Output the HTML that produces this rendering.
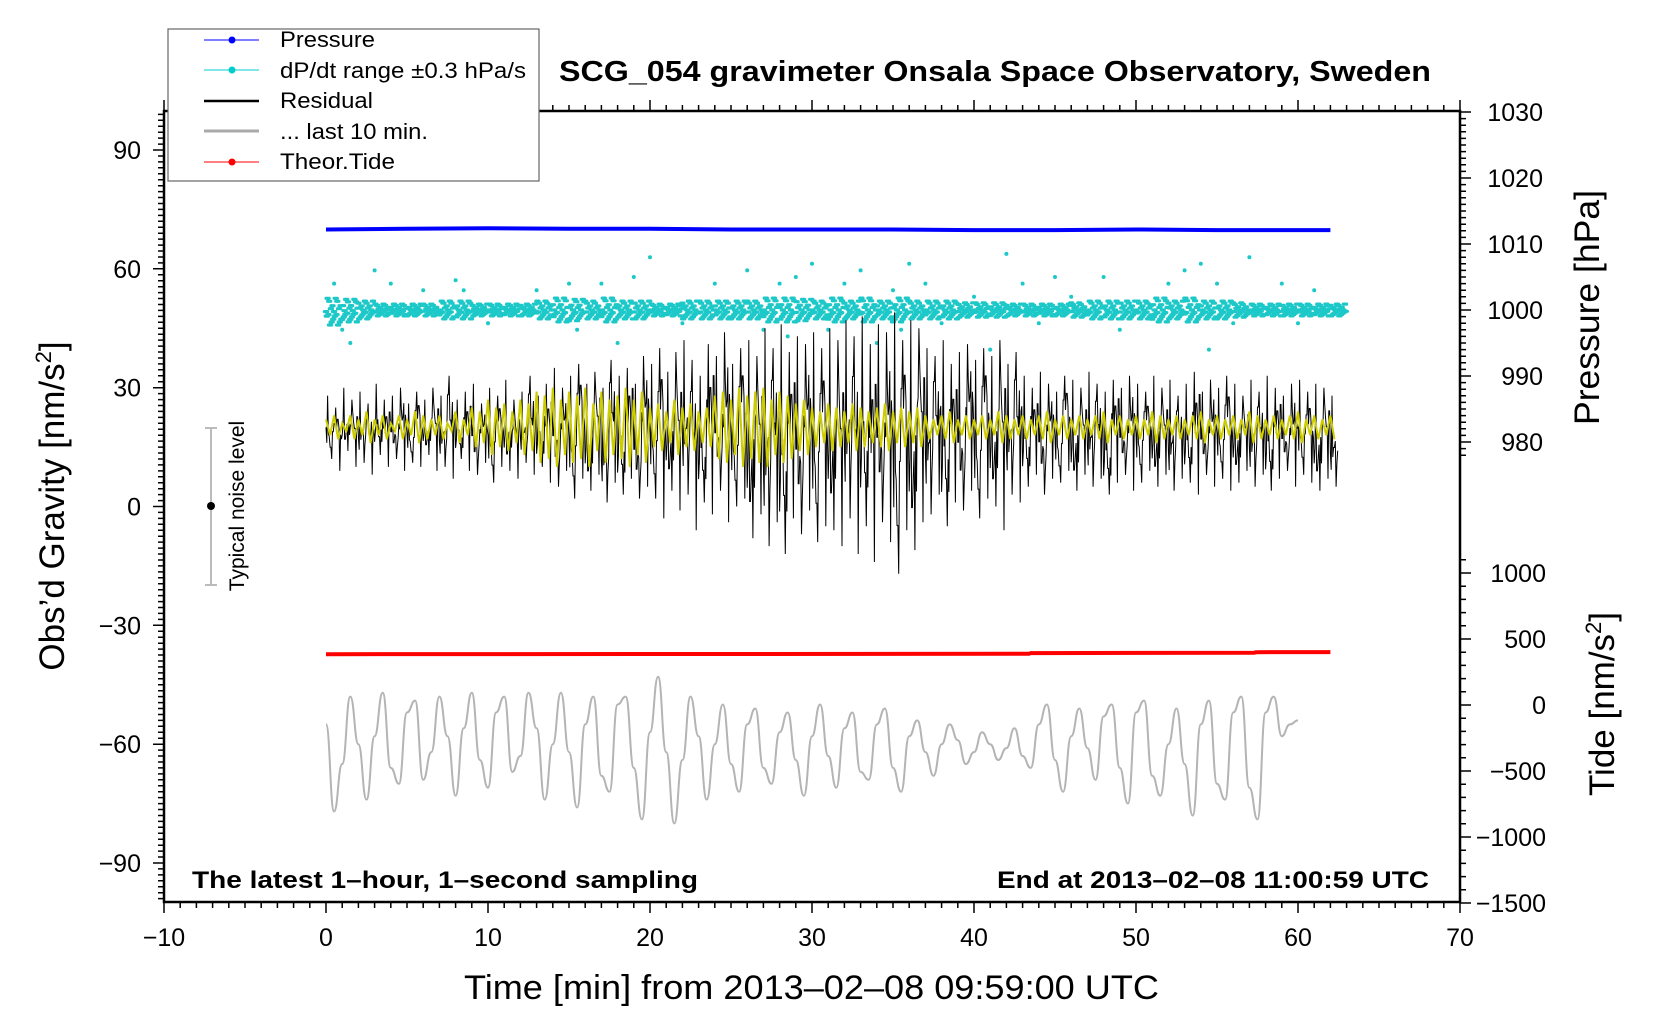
<!DOCTYPE html>
<html><head><meta charset="utf-8">
<style>
html,body{margin:0;padding:0;background:#fff;}
svg{display:block;font-family:"Liberation Sans",sans-serif;}
</style></head>
<body>
<svg id="chart" width="1660" height="1020" viewBox="0 0 1660 1020" xmlns="http://www.w3.org/2000/svg">
<rect x="0" y="0" width="1660" height="1020" fill="#fff"/>
<g id="series"></g>
<g id="axes"></g>
<rect x="164" y="111" width="1296" height="791" fill="none" stroke="#000" stroke-width="2.5"/>
<text x="559" y="81" font-size="29" font-weight="bold" textLength="872" lengthAdjust="spacingAndGlyphs">SCG_054 gravimeter Onsala Space Observatory, Sweden</text>
<text x="192" y="888" font-size="24" font-weight="bold" textLength="506" lengthAdjust="spacingAndGlyphs">The latest 1–hour, 1–second sampling</text>
<text x="997" y="888" font-size="24" font-weight="bold" textLength="432" lengthAdjust="spacingAndGlyphs">End at 2013–02–08 11:00:59 UTC</text>
<text x="464" y="999" font-size="34" textLength="695" lengthAdjust="spacingAndGlyphs">Time [min] from 2013–02–08 09:59:00 UTC</text>
<text transform="translate(64,506) rotate(-90)" font-size="35" text-anchor="middle">Obs’d Gravity [nm/s<tspan font-size="22" dy="-13">2</tspan><tspan dy="13">]</tspan></text>
<text transform="translate(1599,425) rotate(-90)" font-size="35" textLength="235" lengthAdjust="spacingAndGlyphs">Pressure [hPa]</text>
<text transform="translate(1614,704) rotate(-90)" font-size="35" text-anchor="middle">Tide [nm/s<tspan font-size="22" dy="-13">2</tspan><tspan dy="13">]</tspan></text>
<g>
<line x1="211" y1="428" x2="211" y2="585" stroke="#bbb" stroke-width="2"/>
<line x1="205" y1="428" x2="217" y2="428" stroke="#bbb" stroke-width="2"/>
<line x1="205" y1="585" x2="217" y2="585" stroke="#bbb" stroke-width="2"/>
<circle cx="211" cy="506" r="4" fill="#000"/>
<text transform="translate(244,506) rotate(-90)" font-size="21" text-anchor="middle">Typical noise level</text>
</g>
<g>
<rect x="168" y="29" width="371" height="152" fill="#fff" stroke="#666" stroke-width="1.2"/>
<g><line x1="204" y1="40" x2="259" y2="40" stroke="#00f" stroke-width="1"/><circle cx="232" cy="40" r="3.5" fill="#00f"/><text x="280" y="47" font-size="22" textLength="95" lengthAdjust="spacingAndGlyphs">Pressure</text></g>
<g><line x1="204" y1="70" x2="259" y2="70" stroke="#0cc" stroke-width="1"/><circle cx="232" cy="70" r="3.5" fill="#0cc"/><text x="280" y="78" font-size="22" textLength="246" lengthAdjust="spacingAndGlyphs">dP/dt range ±0.3 hPa/s</text></g>
<g><line x1="204" y1="101" x2="259" y2="101" stroke="#000" stroke-width="2.5"/><text x="280" y="108" font-size="22" textLength="93" lengthAdjust="spacingAndGlyphs">Residual</text></g>
<g><line x1="204" y1="131" x2="259" y2="131" stroke="#aaa" stroke-width="3"/><text x="280" y="139" font-size="22" textLength="148" lengthAdjust="spacingAndGlyphs">... last 10 min.</text></g>
<g><line x1="204" y1="162" x2="259" y2="162" stroke="#f00" stroke-width="1"/><circle cx="232" cy="162" r="3.5" fill="#f00"/><text x="280" y="169" font-size="22" textLength="115" lengthAdjust="spacingAndGlyphs">Theor.Tide</text></g>
</g>
</svg>
<script>
// ---- data ----
const xTicks = [-10,0,10,20,30,40,50,60,70];
const gravTicks = [-90,-60,-30,0,30,60,90];
const pressTicks = [980,990,1000,1010,1020,1030];
const tideTicks = [-1500,-1000,-500,0,500,1000];
const resHi = [28,25,30,27,29,26,31,27,28,30,26,29,27,30,
28,33,27,29,31,26,30,28,32,27,29,33,28,31,
35,30,33,36,31,34,30,37,33,35,31,38,
36,40,34,39,42,37,33,41,38,44,36,40,
42,38,45,40,46,39,43,41,44,40,
45,42,47,43,48,41,46,44,49,42,47,45,
40,38,42,36,39,41,37,40,38,42,36,39,
33,30,34,31,29,33,32,30,34,31,29,32,30,33,
31,29,33,30,32,28,31,34,29,32,30,33,
31,28,32,29,33,30,28,31,32,29,31,30,28];
const resLo = [12,9,14,10,11,8,13,10,12,9,11,10,13,9,
10,7,12,9,8,11,6,10,9,7,11,8,10,6,
5,9,2,7,4,8,1,6,3,7,2,5,
2,-3,4,-1,3,-6,1,-2,4,-4,0,2,
-8,-2,-10,-4,-12,-3,-7,-1,-9,-5,
-6,-10,-3,-12,-5,-14,-4,-9,-17,-6,-11,-4,
-2,3,-5,1,-1,4,-3,2,0,-6,3,1,
5,8,3,7,6,9,4,8,5,7,3,6,8,4,
6,9,5,8,4,7,6,3,8,5,7,4,
6,9,5,8,4,7,9,5,8,6,4,7,5];
const filtHi = [22,23,21,23,22,24,22,23,21,23,22,24,23,22,23,21,24,22,
25,24,27,25,26,24,27,26,
29,28,30,27,29,28,30,26,29,27,28,30,27,29,
25,26,24,27,25,26,24,25,
28,29,27,30,28,29,30,27,29,28,26,27,
25,24,26,25,24,26,25,24,25,26,24,25,24,25,
23,22,23,24,22,23,22,23,22,24,23,22,23,22,23,24,22,23,22,23,22,23,24,22,23,22,23,22,24,23,22,23,22,23,24,22,23,22,23,22,24,23,22,23,22,23,24,22,23,22,23];
const filtLo = [18,17,19,17,18,16,18,17,19,17,18,16,17,18,17,19,16,18,
15,16,13,15,14,16,13,14,
11,12,10,13,11,12,10,14,11,13,12,10,13,11,
15,14,16,13,15,14,16,15,
12,11,13,10,12,11,10,13,11,12,14,13,
15,16,14,15,16,14,15,16,15,14,16,15,16,15,
17,18,17,16,18,17,18,17,18,16,17,18,17,18,17,16,18,17,18,17,18,17,16,18,17,18,17,18,16,17,18,17,18,17,16,18,17,18,17,18,16,17,18,17,18,17,16,18,17,18,17];
const dpHi = [1002,1001.8,1001.5,1001,1001,1001,1001,1001.5,1001.5,1001,1001,1001,1001,1001.5,1002,1001.8,1001.5,1002,1001.5,1001.5,1001,1001,1001.5,1001.5,1001.5,1001.5,1001.5,1002,1002,1001.8,1001.5,1002,1001.5,1002,1001.5,1002,1001.5,1001.5,1001.5,1001.2,1001.2,1001.2,1001,1001,1001,1001,1001.2,1001.5,1001.5,1001.5,1001.5,1002,1001.5,1002,1001.5,1001.5,1001.2,1001,1001,1001,1001,1001,1001];
const dpLo = [997.5,998,998.5,999,999,999,999,998.5,998.5,999,999,999,999,998.5,998,998.2,998.5,998,998.5,998.5,999,999,998.5,998.5,998.5,998.5,998.5,998,998,998.2,998.5,998,998.5,998,998.5,998,998.5,998.5,998.5,998.8,998.8,998.8,999,999,999,999,998.8,998.5,998.5,998.5,998.5,998,998.5,998,998.5,998.5,998.8,999,999,999,999,999,999];
const dpOutT = [0.5,1,1.5,3,4,6,8,8.5,10,13,15,15.5,17,18,19,20,22,24,26,27,28,28.5,29,30,31,32,33,34,35,35.5,36,37,38,40,41,42,43,44,45,46,48,49,52,53,54,54.5,55,56,57,59,60,61];
const dpOutV = [1004,997,995,1006,1004,1003,1004.5,1003,998,1003,1004,997,1004,995,1005,1008,998,1004,1006,997,1004,996,1005,1007,997,1004,1006,995,1003,997,1007,1004,998,1002,994,1008.5,1004,998,1005,1002,1005,997,1004,1006,1007,994,1004,998,1008,1004,998,1003];
const pressT = [0,5,10,15,20,25,30,35,40,45,50,55,62];
const pressV = [1012.2,1012.3,1012.4,1012.3,1012.3,1012.2,1012.2,1012.2,1012.1,1012.1,1012.2,1012.1,1012.1];
const tideT = [0,43.4,43.5,57.3,57.4,62];
const tideV = [385,388,393,396,400,401];
const last10 = [-55,-77,-65,-48,-60,-74,-58,-47,-66,-70,-52,-49,-69,-62,-48,-58,-73,-56,-47,-64,-71,-52,-48,-67,-63,-47,-56,-74,-60,-47,-62,-76,-55,-48,-68,-72,-50,-48,-66,-79,-57,-43,-62,-80,-64,-48,-58,-74,-60,-50,-65,-72,-55,-51,-66,-70,-57,-52,-64,-73,-58,-50,-63,-71,-56,-52,-67,-69,-55,-51,-66,-72,-58,-54,-62,-68,-60,-55,-59,-65,-62,-57,-60,-64,-61,-56,-63,-66,-55,-50,-64,-72,-58,-51,-61,-69,-53,-50,-66,-75,-52,-49,-68,-73,-60,-51,-65,-78,-55,-49,-70,-74,-52,-48,-71,-79,-52,-48,-58,-55,-54];

// ---- axis functions ----
const X = t => 326 + t*16.2;
const YG = g => 506.5 - g*3.961;
const YP = p => 442 - (p-980)*6.6;
const YT = v => 573 - (v-1000)*0.132;

const NS = "http://www.w3.org/2000/svg";
const S = document.getElementById('series');
const A = document.getElementById('axes');
function mk(tag, attrs, parent){ const e=document.createElementNS(NS,tag); for(const k in attrs) e.setAttribute(k,attrs[k]); parent.appendChild(e); return e; }
const FR = [0.5,0.15,0.85,0.35,0.7,0.05,0.95,0.25,0.6,0.4];

// pressure
let d = pressT.map((t,i)=>(i?'L':'M')+X(t).toFixed(1)+' '+YP(pressV[i]).toFixed(1)).join(' ');
let el = mk('path',{d:d,fill:'none',stroke:'#00f','stroke-width':4},S);



// dP/dt band as dots
let dots=[];
for(let i=0;i<Math.min(dpHi.length,dpLo.length);i++){
  for(let k=0;k<20;k++){
    const f = FR[(k*3+i)%FR.length];
    const p = dpLo[i] + (dpHi[i]-dpLo[i])*f;
    const cx = X(i + k*0.05);
    dots.push('M'+(cx-1.6).toFixed(1)+' '+YP(p).toFixed(1)+'h3.2');
  }
}
el = mk('path',{d:dots.join(''),fill:'none',stroke:'#1cc8c8','stroke-width':3.2,'stroke-linecap':'round'},S);


for(let i=0;i<dpOutT.length;i++){
  const c = mk('circle',{cx:X(dpOutT[i]).toFixed(1),cy:YP(dpOutV[i]).toFixed(1),r:2,fill:'#1cc8c8'},S);
  
  
}

// residual (dense)
let pts=[];
const nR = Math.min(resHi.length,resLo.length);
for(let i=0;i<nR;i++){
  const hi=resHi[i], lo=resLo[i], mid=(hi+lo)/2, a=(hi-lo)/2;
  for(let k=0;k<10;k++){
    let v;
    if(k===2) v=hi; else if(k===7) v=lo;
    else v = mid + a*(FR[(k+i)%FR.length]-0.5)*1.4*((k%2)?1:-1);
    pts.push(X(i*0.5+k*0.05).toFixed(1)+' '+YG(v).toFixed(1));
  }
}
el = mk('path',{d:'M'+pts.join(' L'),fill:'none',stroke:'#000','stroke-width':1},S);



// filtered (yellow)
pts=[];
for(let i=0;i<Math.min(filtHi.length,filtLo.length);i++){
  pts.push(X(i*0.5).toFixed(1)+' '+YG(filtHi[i]).toFixed(1));
  pts.push(X(i*0.5+0.25).toFixed(1)+' '+YG(filtLo[i]).toFixed(1));
}
el = mk('path',{d:'M'+pts.join(' L'),fill:'none',stroke:'#cccc00','stroke-width':2},S);



// tide
d = tideT.map((t,i)=>(i?'L':'M')+X(t).toFixed(1)+' '+YT(tideV[i]).toFixed(1)).join(' ');
el = mk('path',{d:d,fill:'none',stroke:'#f00','stroke-width':4},S);



// last 10 min (smoothed)
let g = 'M'+X(0).toFixed(1)+' '+YG(last10[0]).toFixed(1);
for(let i=1;i<last10.length;i++){
  const x0=X((i-1)*0.5), x1=X(i*0.5), y0=YG(last10[i-1]), y1=YG(last10[i]);
  const xm=(x0+x1)/2;
  g += ' C'+xm.toFixed(1)+' '+y0.toFixed(1)+' '+xm.toFixed(1)+' '+y1.toFixed(1)+' '+x1.toFixed(1)+' '+y1.toFixed(1);
}
el = mk('path',{d:g,fill:'none',stroke:'#b4b4b4','stroke-width':2},S);



// ---- axes ticks ----
let tk=[];
for(let t=-10;t<=70;t++){
  const L = (t%10===0)?11:6;
  tk.push('M'+X(t).toFixed(1)+' 902 v'+L);
  tk.push('M'+X(t).toFixed(1)+' 111 v'+(-L));
}
for(let v=-99;v<=100;v+=1.5){
  const L = (Math.abs(v%30)<0.01)?11:6;
  tk.push('M164 '+YG(v).toFixed(1)+' h'+(-L));
}
for(let p=978;p<=1030;p+=1){
  const L = (p%10===0)?11:6;
  tk.push('M1460 '+YP(p).toFixed(1)+' h'+L);
}
for(let v=-1500;v<=1100;v+=100){
  const L = (v%500===0)?11:6;
  tk.push('M1460 '+YT(v).toFixed(1)+' h'+L);
}
el = mk('path',{d:tk.join(' '),stroke:'#000','stroke-width':1.5,fill:'none'},A);



function lab(x,y,txt,anchor,name){
  const t = mk('text',{x:x,y:y,'font-size':25,'text-anchor':anchor},A);
  t.textContent = txt;
  
  
}
const m = v => String(v).replace('-','\u2212');
xTicks.forEach(t=>lab(X(t),946,m(t),'middle','x-tick-label'));
gravTicks.forEach(v=>lab(141,YG(v)+9,m(v),'end','gravity-tick-label'));
pressTicks.forEach(p=>lab(1543,YP(p)+9,m(p),'end','pressure-tick-label'));
tideTicks.forEach(v=>lab(1546,YT(v)+9,m(v),'end','tide-tick-label'));
</script>
</body></html>
